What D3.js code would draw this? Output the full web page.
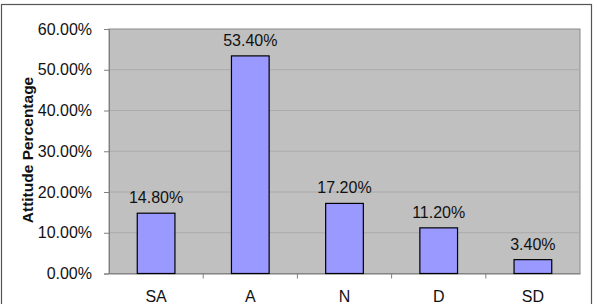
<html lang="en">
<head>
<meta charset="UTF-8">
<title>Attitude Percentage</title>
<style>
  body { margin: 0; background: #fff; }
  text { font-family: "Liberation Sans", Arial, sans-serif; }
</style>
</head>
<body>
<svg width="597" height="304"></svg>
<script src="https://d3js.org/d3.v7.min.js"></script>
<script>
(function () {
    'use strict';

    var categories = ["SA", "A", "N", "D", "SD"];
    var values = [14.8, 53.4, 17.2, 11.2, 3.4];
    var yTicks = [0, 10, 20, 30, 40, 50, 60];

    var FONT = "Liberation Sans, Arial, sans-serif";
    var svg = d3.select("svg");

    // outer chart frame
    svg.append("rect")
        .attr("x", 1.5).attr("y", 4.5)
        .attr("width", 590).attr("height", 310)
        .attr("fill", "#fff")
        .attr("stroke", "#555").attr("stroke-width", 1.2);

    var left = 109, top = 29, right = 580, bottom = 273.5;

    var x = d3.scaleBand().domain(categories).range([left, right]).paddingInner(0.6).paddingOuter(0.3);
    var xOuter = d3.scaleBand().domain(categories).range([left, right]);
    var y = d3.scaleLinear().domain([0, 60]).range([bottom, top]);

    // plot area
    svg.append("rect")
        .attr("x", left).attr("y", top)
        .attr("width", right - left).attr("height", bottom - top)
        .attr("fill", "#c0c0c0")
        .attr("stroke", "#8a8a8a").attr("stroke-width", 1);

    // gridlines
    svg.append("g").selectAll("line")
        .data(yTicks.slice(1, -1))
        .enter().append("line")
        .attr("x1", left).attr("x2", right)
        .attr("y1", function (d) { return y(d); })
        .attr("y2", function (d) { return y(d); })
        .attr("stroke", "#aaaaaa").attr("stroke-width", 1);

    // y axis
    var yAxis = svg.append("g")
        .attr("transform", "translate(" + left + ",0)")
        .call(d3.axisLeft(y).tickValues(yTicks).tickSize(5).tickPadding(12)
            .tickFormat(function (d) { return d.toFixed(2) + "%"; }));
    yAxis.attr("font-size", 16).attr("font-family", FONT);
    yAxis.select(".domain").attr("stroke", "#808080");
    yAxis.selectAll(".tick line").attr("stroke", "#808080");
    yAxis.selectAll("text").attr("fill", "#111");

    // x axis
    var xAxis = svg.append("g")
        .attr("transform", "translate(0," + bottom + ")")
        .call(d3.axisBottom(xOuter).tickSize(0).tickPadding(17));
    xAxis.attr("font-size", 16).attr("font-family", FONT);
    xAxis.select(".domain").attr("stroke", "#808080");
    xAxis.selectAll("text").attr("fill", "#111");

    // tick marks between categories
    svg.append("g").selectAll("line")
        .data(categories.slice(1))
        .enter().append("line")
        .attr("x1", function (d) { return xOuter(d); })
        .attr("x2", function (d) { return xOuter(d); })
        .attr("y1", bottom).attr("y2", bottom + 5)
        .attr("stroke", "#808080");

    // bars
    svg.append("g").selectAll("rect")
        .data(values)
        .enter().append("rect")
        .attr("x", function (d, i) { return x(categories[i]); })
        .attr("y", function (d) { return y(d); })
        .attr("width", x.bandwidth())
        .attr("height", function (d) { return y(0) - y(d); })
        .attr("fill", "#9999ff")
        .attr("stroke", "#000").attr("stroke-width", 1.2);

    // data labels
    svg.append("g").selectAll("text")
        .data(values)
        .enter().append("text")
        .attr("x", function (d, i) { return x(categories[i]) + x.bandwidth() / 2; })
        .attr("y", function (d) { return y(d) - 10; })
        .attr("text-anchor", "middle")
        .attr("font-size", 16)
        .attr("fill", "#111")
        .text(function (d) { return d.toFixed(2) + "%"; });

    // y title
    svg.append("text")
        .attr("transform", "translate(33," + 150 + ") rotate(-90)")
        .attr("text-anchor", "middle")
        .attr("font-size", 15.5)
        .attr("font-weight", "bold")
        .attr("fill", "#111")
        .text("Attitude Percentage");
})();
</script>
</body>
</html>
